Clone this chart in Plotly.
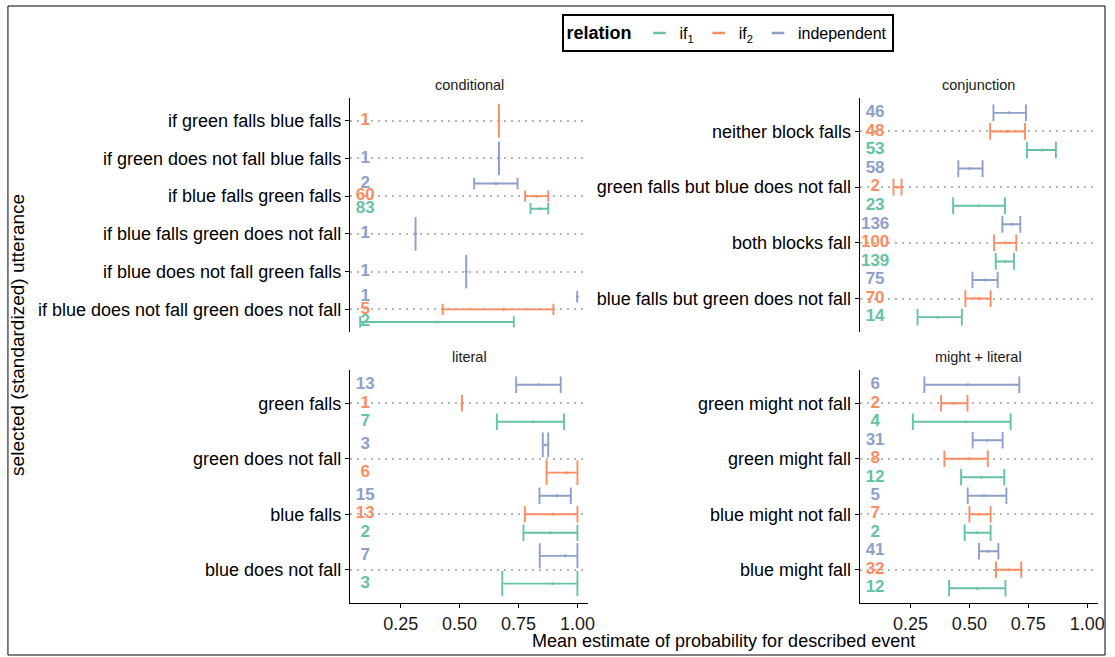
import plotly.graph_objects as go

W, H = 1115, 657

# ---------------- data ----------------
relations = ["independent", "if2", "if1"]  # dodge order: top -> bottom
rel_names = {"if1": "if<sub>1</sub>", "if2": "if<sub>2</sub>", "independent": "independent"}
rel_colors = {"if1": "#66C2A5", "if2": "#FC8D62", "independent": "#8DA0CB"}

# conditional (categories listed top -> bottom)
cond_cats = ["if green falls blue falls", "if green does not fall blue falls",
             "if blue falls green falls", "if blue falls green does not fall",
             "if blue does not fall green falls", "if blue does not fall green does not fall"]
cond_if1_n = [None, None, 83, None, None, 2]
cond_if1_mean = [None, None, 0.840, None, None, 0.403]
cond_if1_lo = [None, None, 0.801, None, None, 0.078]
cond_if1_hi = [None, None, 0.876, None, None, 0.730]
cond_if2_n = [1, None, 60, None, None, 5]
cond_if2_mean = [0.667, None, 0.826, None, None, 0.686]
cond_if2_lo = [0.667, None, 0.778, None, None, 0.428]
cond_if2_hi = [0.667, None, 0.876, None, None, 0.898]
cond_ind_n = [None, 1, 2, 1, 1, 1]
cond_ind_mean = [None, 0.667, 0.655, 0.313, 0.528, 0.999]
cond_ind_lo = [None, 0.667, 0.562, 0.313, 0.528, 0.999]
cond_ind_hi = [None, 0.667, 0.746, 0.313, 0.528, 0.999]

# conjunction
conj_cats = ["neither block falls", "green falls but blue does not fall",
             "both blocks fall", "blue falls but green does not fall"]
conj_if1_n = [53, 23, 139, 14]
conj_if1_mean = [0.808, 0.539, 0.651, 0.366]
conj_if1_lo = [0.744, 0.431, 0.612, 0.280]
conj_if1_hi = [0.867, 0.651, 0.689, 0.468]
conj_if2_n = [48, 2, 100, 70]
conj_if2_mean = [0.661, 0.195, 0.651, 0.539]
conj_if2_lo = [0.588, 0.178, 0.605, 0.483]
conj_if2_hi = [0.736, 0.212, 0.699, 0.590]
conj_ind_n = [46, 58, 136, 75]
conj_ind_mean = [0.669, 0.500, 0.678, 0.568]
conj_ind_lo = [0.602, 0.453, 0.640, 0.513]
conj_ind_hi = [0.740, 0.556, 0.716, 0.620]

# literal
lit_cats = ["green falls", "green does not fall", "blue falls", "blue does not fall"]
lit_if1_n = [7, None, 2, 3]
lit_if1_mean = [0.812, None, 0.884, 0.894]
lit_if1_lo = [0.658, None, 0.771, 0.681]
lit_if1_hi = [0.943, None, 1.0, 1.0]
lit_if2_n = [1, 6, 13, None]
lit_if2_mean = [0.510, 0.953, 0.894, None]
lit_if2_lo = [0.510, 0.869, 0.777, None]
lit_if2_hi = [0.510, 1.0, 1.0, None]
lit_ind_n = [13, 3, 15, 7]
lit_ind_mean = [0.836, 0.864, 0.914, 0.948]
lit_ind_lo = [0.740, 0.853, 0.839, 0.840]
lit_ind_hi = [0.929, 0.876, 0.972, 1.0]

# might + literal
might_cats = ["green might not fall", "green might fall", "blue might not fall", "blue might fall"]
might_if1_n = [4, 12, 2, 12]
might_if1_mean = [0.484, 0.551, 0.534, 0.533]
might_if1_lo = [0.260, 0.465, 0.480, 0.414]
might_if1_hi = [0.675, 0.648, 0.590, 0.653]
might_if2_n = [2, 8, 7, 32]
might_if2_mean = [0.435, 0.497, 0.541, 0.667]
might_if2_lo = [0.380, 0.394, 0.500, 0.613]
might_if2_hi = [0.492, 0.578, 0.590, 0.720]
might_ind_n = [6, 31, 5, 41]
might_ind_mean = [0.494, 0.575, 0.562, 0.581]
might_ind_lo = [0.309, 0.514, 0.493, 0.541]
might_ind_hi = [0.712, 0.641, 0.657, 0.623]

x_ticks = [0.25, 0.50, 0.75, 1.00]
x_tick_labels = ["0.25", "0.50", "0.75", "1.00"]
label_x = 0.1

panels = [
    dict(title="conditional", cats=cond_cats,
         data={"if1": (cond_if1_n, cond_if1_mean, cond_if1_lo, cond_if1_hi),
               "if2": (cond_if2_n, cond_if2_mean, cond_if2_lo, cond_if2_hi),
               "independent": (cond_ind_n, cond_ind_mean, cond_ind_lo, cond_ind_hi)}),
    dict(title="conjunction", cats=conj_cats,
         data={"if1": (conj_if1_n, conj_if1_mean, conj_if1_lo, conj_if1_hi),
               "if2": (conj_if2_n, conj_if2_mean, conj_if2_lo, conj_if2_hi),
               "independent": (conj_ind_n, conj_ind_mean, conj_ind_lo, conj_ind_hi)}),
    dict(title="literal", cats=lit_cats,
         data={"if1": (lit_if1_n, lit_if1_mean, lit_if1_lo, lit_if1_hi),
               "if2": (lit_if2_n, lit_if2_mean, lit_if2_lo, lit_if2_hi),
               "independent": (lit_ind_n, lit_ind_mean, lit_ind_lo, lit_ind_hi)}),
    dict(title="might + literal", cats=might_cats,
         data={"if1": (might_if1_n, might_if1_mean, might_if1_lo, might_if1_hi),
               "if2": (might_if2_n, might_if2_mean, might_if2_lo, might_if2_hi),
               "independent": (might_ind_n, might_ind_mean, might_ind_lo, might_ind_hi)}),
]

# ---------------- layout geometry (pixels) ----------------
col_px = [(352, 592), (865, 1105)]
row_px = [(98, 332), (370, 603)]
x_range = [0.034, 1.046]
FONT = "Liberation Sans, Arial, Helvetica, sans-serif"

fig = go.Figure()
layout_axes = {}
annotations = []

for p_i, p in enumerate(panels):
    r, c = divmod(p_i, 2)
    ax_n = p_i + 1
    xname = "x" if ax_n == 1 else f"x{ax_n}"
    yname = "y" if ax_n == 1 else f"y{ax_n}"
    cats = p["cats"]
    K = len(cats)
    y0p, y1p = row_px[r]
    px_per_unit = (y1p - y0p) / (K + 0.2)

    for ci in range(K):
        present = [rel for rel in relations if p["data"][rel][0][ci] is not None]
        n_grp = len(present)
        ybase = K - ci
        for k, rel in enumerate(present):
            nn, mm, lo, hi = (arr[ci] for arr in p["data"][rel])
            off = 0.5 - (k + 0.5) / n_grp
            yv = ybase + off
            col = rel_colors[rel]
            cap = 0.45 / n_grp * px_per_unit
            fig.add_trace(go.Scatter(
                x=[mm], y=[yv], xaxis=xname, yaxis=yname, mode="markers",
                marker=dict(color=col, size=3),
                error_x=dict(type="data", symmetric=False, array=[hi - mm],
                             arrayminus=[mm - lo], color=col, thickness=1.9,
                             width=cap),
                showlegend=False, hoverinfo="skip"))
            fig.add_trace(go.Scatter(
                x=[label_x], y=[yv], xaxis=xname, yaxis=yname, mode="text",
                text=[f"<b>{nn}</b>"],
                textfont=dict(color=col, size=17, family=FONT),
                textposition="middle center",
                showlegend=False, hoverinfo="skip"))

    xd = [col_px[c][0] / W, col_px[c][1] / W]
    yd = [1 - y1p / H, 1 - y0p / H]
    bottom = (r == 1)
    layout_axes["xaxis" if ax_n == 1 else f"xaxis{ax_n}"] = dict(
        domain=xd, range=x_range, anchor=yname, showgrid=False, zeroline=False,
        tickvals=x_ticks, ticktext=x_tick_labels, showticklabels=bottom,
        ticks="outside" if bottom else "", ticklen=4, tickcolor="black",
        showline=bottom, linecolor="black", linewidth=1,
        tickfont=dict(size=18, color="#1a1a1a", family=FONT))
    layout_axes["yaxis" if ax_n == 1 else f"yaxis{ax_n}"] = dict(
        domain=yd, range=[0.4, K + 0.6], anchor=xname,
        tickvals=list(range(K, 0, -1)), ticktext=cats,
        showgrid=True, griddash="2px,5px", gridcolor="#b5b5b5", gridwidth=1.5,
        zeroline=False, showline=True, linecolor="black", linewidth=1,
        ticks="outside", ticklen=4, tickcolor="black",
        tickfont=dict(size=18, color="black", family=FONT))
    annotations.append(dict(
        text=p["title"], x=(col_px[c][0] + col_px[c][1]) / 2 / W,
        y=1 - (y0p - 13) / H, xref="paper", yref="paper", showarrow=False,
        xanchor="center", yanchor="middle",
        font=dict(size=14.5, color="#1a1a1a", family=FONT)))

# legend entries
for rel in ["if1", "if2", "independent"]:
    fig.add_trace(go.Scatter(
        x=[None], y=[None], mode="markers", name=rel_names[rel],
        marker=dict(color=rel_colors[rel], size=9, symbol="line-ew-open",
                    line=dict(color=rel_colors[rel], width=2.5)),
        showlegend=True))

annotations.append(dict(
    text="Mean estimate of probability for described event", x=728 / W, y=1 - 641 / H,
    xref="paper", yref="paper", showarrow=False, xanchor="center", yanchor="middle",
    font=dict(size=18, color="black", family=FONT)))
annotations.append(dict(
    text="selected (standardized) utterance", x=17 / W, y=1 - 335 / H,
    xref="paper", yref="paper", showarrow=False, textangle=-90,
    xanchor="center", yanchor="middle",
    font=dict(size=19, color="black", family=FONT)))

fig.update_layout(
    width=W, height=H, margin=dict(l=0, r=0, t=0, b=0),
    paper_bgcolor="white", plot_bgcolor="white",
    font=dict(family=FONT, color="black"),
    annotations=annotations,
    shapes=[dict(type="rect", xref="paper", yref="paper",
                 x0=8 / W, x1=1112 / W, y0=1 - 655 / H, y1=1 - 6 / H,
                 line=dict(color="black", width=1), fillcolor="rgba(0,0,0,0)",
                 layer="below")],
    legend=dict(orientation="h", x=566 / W, y=1 - 14 / H, xanchor="left", yanchor="top",
                bordercolor="black", borderwidth=2, bgcolor="white",
                title=dict(text="<b>relation</b>", side="left",
                           font=dict(size=18, family=FONT)),
                font=dict(size=16, family=FONT), itemwidth=30,
                tracegroupgap=0),
    **layout_axes,
)

fig.write_html("out.html")
